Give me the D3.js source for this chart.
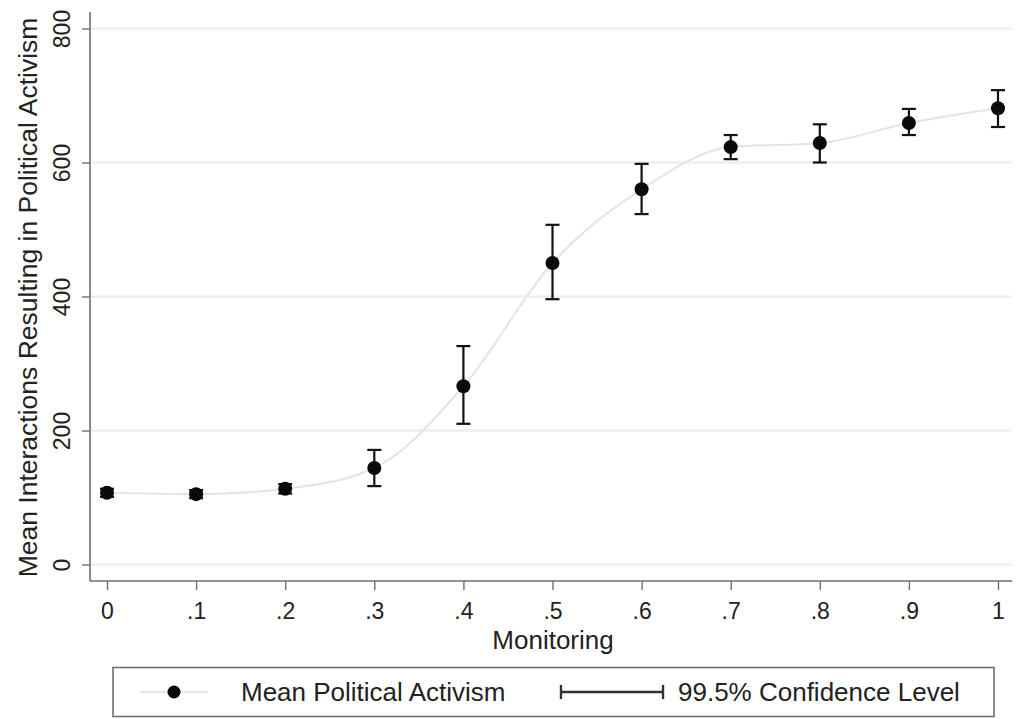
<!DOCTYPE html>
<html>
<head>
<meta charset="utf-8">
<script src="https://cdn.jsdelivr.net/npm/d3@7"></script>
<style>
  html, body { margin: 0; padding: 0; background: #fff; }
  svg { display: block; font-family: "Liberation Sans", Arial, Helvetica, sans-serif; }
</style>
</head>
<body>
<svg id="chart" width="1020" height="719"></svg>
<script>
// Monitoring levels and the simulated mean activism with its 99.5% CI
const monitoring = [0, 0.1, 0.2, 0.3, 0.4, 0.5, 0.6, 0.7, 0.8, 0.9, 1];
const meanActivism = [107, 105, 113, 144, 266, 450, 560, 623, 629, 659, 681];
const ciLower = [101, 99, 106, 117, 210, 396, 523, 605, 600, 641, 653];
const ciUpper = [113, 111, 120, 171, 326, 507, 598, 641, 657, 680, 708];
const yTicks = [0, 200, 400, 600, 800];
const xTicks = [0, 0.1, 0.2, 0.3, 0.4, 0.5, 0.6, 0.7, 0.8, 0.9, 1];
const xTickLabels = ["0", ".1", ".2", ".3", ".4", ".5", ".6", ".7", ".8", ".9", "1"];
const legendLabels = ["Mean Political Activism", "99.5% Confidence Level"];

const rows = monitoring.map((m, i) => ({ m, mean: meanActivism[i], lo: ciLower[i], hi: ciUpper[i] }));

const svg = d3.select("#chart");
const plot = { left: 90, right: 1012, top: 12, bottom: 581 };

const x = d3.scaleLinear().domain([0, 1]).range([107, 998]);
const y = d3.scaleLinear().domain([0, 800]).range([564.5, 28.5]);

// horizontal grid
svg.append("g").selectAll("line").data(yTicks).join("line")
  .attr("x1", plot.left).attr("x2", plot.right)
  .attr("y1", d => y(d)).attr("y2", d => y(d))
  .attr("stroke", "#ebebeb").attr("stroke-width", 2);

// y axis
const yAxis = svg.append("g")
  .attr("transform", `translate(${plot.left},0)`)
  .call(d3.axisLeft(y).tickValues(yTicks).tickSize(8).tickSizeOuter(0).tickPadding(0));
yAxis.select(".domain").remove();
yAxis.append("line").attr("x1", 0).attr("x2", 0).attr("y1", plot.top).attr("y2", plot.bottom)
  .attr("stroke", "#6e6e6e").attr("stroke-width", 1.6);
yAxis.selectAll(".tick line").attr("stroke", "#6e6e6e").attr("stroke-width", 1.4);
yAxis.selectAll(".tick text")
  .attr("transform", "rotate(-90)")
  .attr("x", 0).attr("y", -20).attr("dy", 0)
  .attr("text-anchor", "middle")
  .attr("font-size", 23).attr("fill", "#222");

// x axis
const xAxis = svg.append("g")
  .attr("transform", `translate(0,${plot.bottom})`)
  .call(d3.axisBottom(x).tickValues(xTicks).tickFormat((d, i) => xTickLabels[i]).tickSize(9).tickSizeOuter(0).tickPadding(0));
xAxis.select(".domain").remove();
xAxis.append("line").attr("x1", plot.left).attr("x2", plot.right).attr("y1", 0).attr("y2", 0)
  .attr("stroke", "#6e6e6e").attr("stroke-width", 1.6);
xAxis.selectAll(".tick line").attr("stroke", "#6e6e6e").attr("stroke-width", 1.4);
xAxis.selectAll(".tick text")
  .attr("y", 38).attr("dy", 0)
  .attr("font-size", 23).attr("fill", "#222");

// axis titles
svg.append("text")
  .attr("transform", `translate(37,${(15 + 580) / 2}) rotate(-90)`)
  .attr("text-anchor", "middle")
  .attr("font-size", 26.5).attr("fill", "#222")
  .text("Mean Interactions Resulting in Political Activism");
svg.append("text")
  .attr("x", 553).attr("y", 649)
  .attr("text-anchor", "middle")
  .attr("font-size", 26).attr("fill", "#222")
  .text("Monitoring");

// faint smoothed connecting line
svg.append("path")
  .datum(rows)
  .attr("fill", "none").attr("stroke", "#e4e4e4").attr("stroke-width", 2)
  .attr("d", d3.line().x(d => x(d.m)).y(d => y(d.mean)).curve(d3.curveMonotoneX));

// confidence intervals
const ci = svg.append("g").attr("stroke", "#111").attr("stroke-width", 2.2);
ci.selectAll("line.v").data(rows).join("line").attr("class", "v")
  .attr("x1", d => x(d.m)).attr("x2", d => x(d.m))
  .attr("y1", d => y(d.lo)).attr("y2", d => y(d.hi));
ci.selectAll("line.lo").data(rows).join("line").attr("class", "lo")
  .attr("x1", d => x(d.m) - 7).attr("x2", d => x(d.m) + 7)
  .attr("y1", d => y(d.lo)).attr("y2", d => y(d.lo));
ci.selectAll("line.hi").data(rows).join("line").attr("class", "hi")
  .attr("x1", d => x(d.m) - 7).attr("x2", d => x(d.m) + 7)
  .attr("y1", d => y(d.hi)).attr("y2", d => y(d.hi));

// means
svg.append("g").selectAll("circle").data(rows).join("circle")
  .attr("cx", d => x(d.m)).attr("cy", d => y(d.mean)).attr("r", 7)
  .attr("fill", "#0a0a0a");

// legend
const lg = svg.append("g");
lg.append("rect").attr("x", 113).attr("y", 667.5).attr("width", 881).attr("height", 49)
  .attr("fill", "#fff").attr("stroke", "#707070").attr("stroke-width", 1.6);
lg.append("line").attr("x1", 140).attr("x2", 208).attr("y1", 692).attr("y2", 692)
  .attr("stroke", "#e4e4e4").attr("stroke-width", 2);
lg.append("circle").attr("cx", 174).attr("cy", 692).attr("r", 6.5).attr("fill", "#0a0a0a");
lg.append("text").attr("x", 241).attr("y", 701).attr("font-size", 26).attr("fill", "#222")
  .text(legendLabels[0]);
lg.append("line").attr("x1", 561).attr("x2", 663).attr("y1", 692).attr("y2", 692)
  .attr("stroke", "#333").attr("stroke-width", 2.4);
lg.append("line").attr("x1", 561).attr("x2", 561).attr("y1", 685).attr("y2", 699)
  .attr("stroke", "#333").attr("stroke-width", 2.4);
lg.append("line").attr("x1", 663).attr("x2", 663).attr("y1", 685).attr("y2", 699)
  .attr("stroke", "#333").attr("stroke-width", 2.4);
lg.append("text").attr("x", 678).attr("y", 701).attr("font-size", 26).attr("fill", "#222")
  .text(legendLabels[1]);
</script>
</body>
</html>
